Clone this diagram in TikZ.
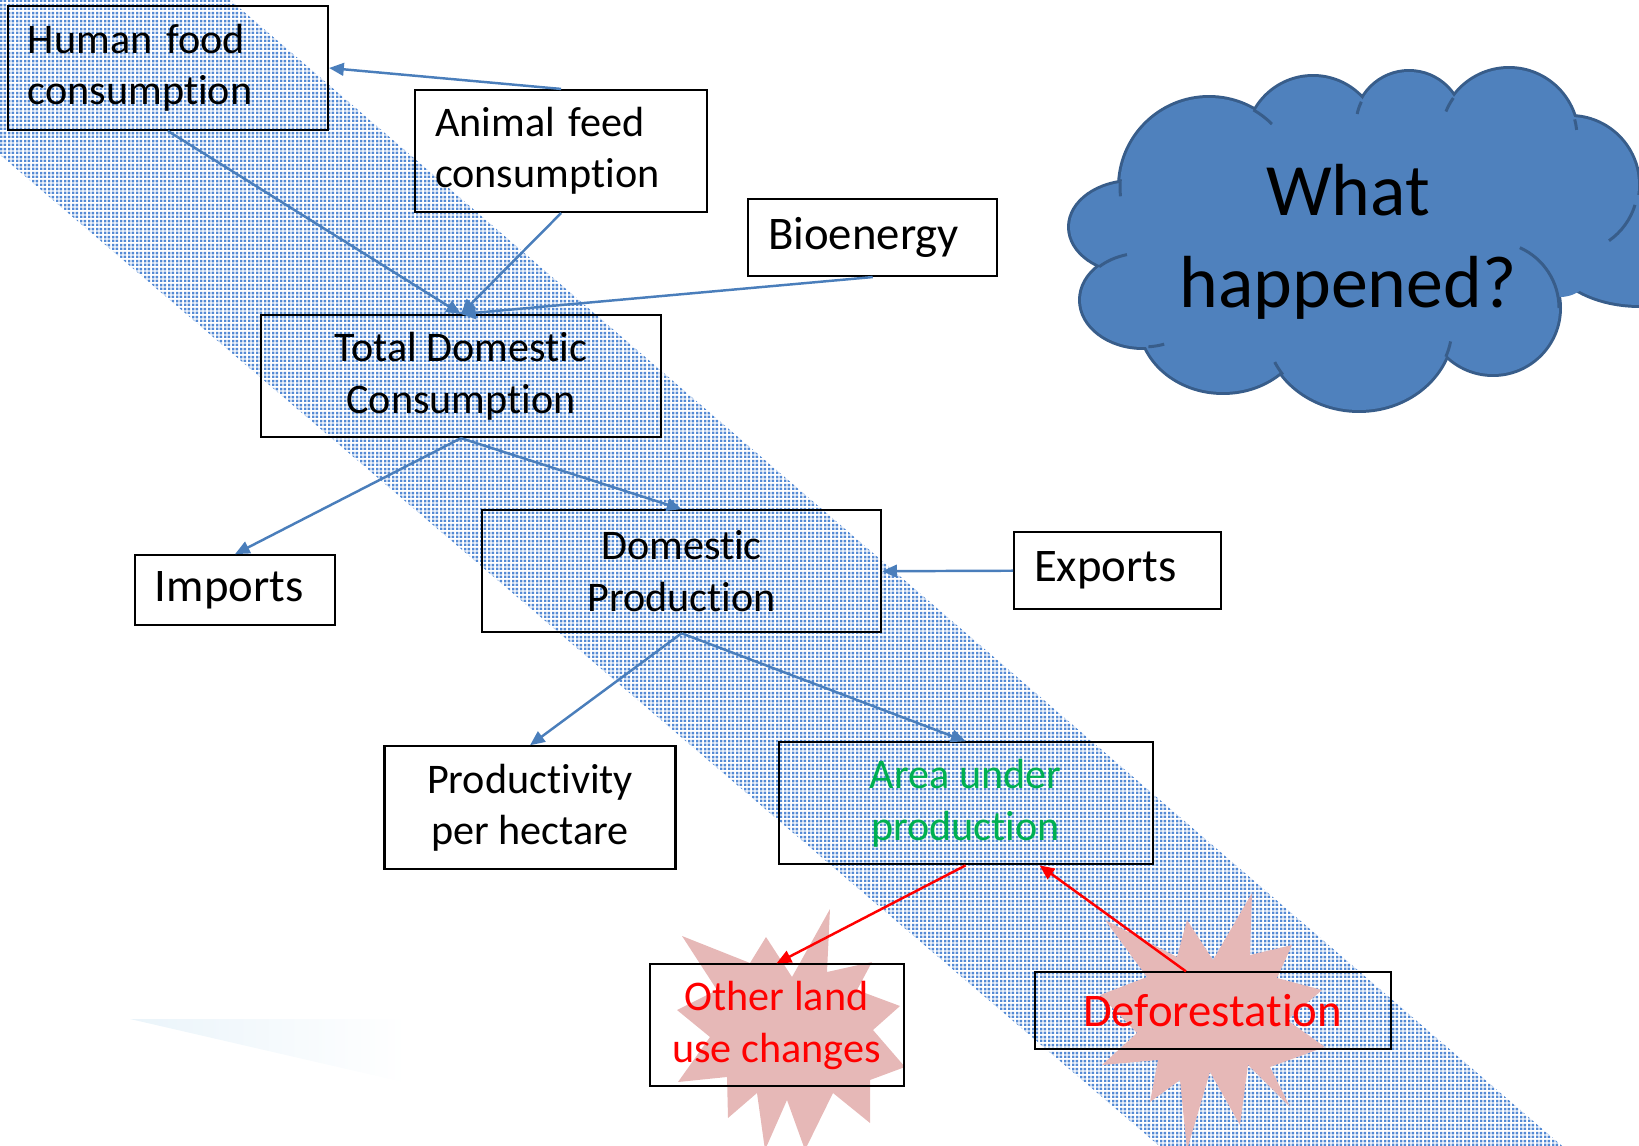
\documentclass[tikz,border=0pt]{standalone}
\usepackage{fontspec}
\setmainfont{Carlito}[Ligatures=NoCommon]
\usepackage{tikz}
\usetikzlibrary{positioning,arrows.meta,patterns.meta}

\definecolor{flowblue}{RGB}{74,126,187}
\definecolor{meshblue}{RGB}{84,138,212}
\definecolor{cloudblue}{RGB}{79,129,189}
\definecolor{cloudrim}{RGB}{56,93,138}
\definecolor{burstpink}{RGB}{230,184,183}
\definecolor{leafgreen}{RGB}{0,176,80}
\definecolor{glint}{RGB}{234,244,250}

\pgfdeclarepattern{
  name=weave,
  bottom left={\pgfpoint{0pt}{0pt}},
  top right={\pgfpoint{2.3pt}{2.3pt}},
  tile size={\pgfpoint{2.3pt}{2.3pt}},
  code={
    \pgfpathrectangle{\pgfpoint{0.35pt}{0.35pt}}{\pgfpoint{0.75pt}{0.75pt}}
    \pgfpathrectangle{\pgfpoint{1.5pt}{0.35pt}}{\pgfpoint{0.75pt}{0.75pt}}
    \pgfpathrectangle{\pgfpoint{0.35pt}{1.5pt}}{\pgfpoint{0.75pt}{0.75pt}}
    \pgfpathrectangle{\pgfpoint{1.5pt}{1.5pt}}{\pgfpoint{0.75pt}{0.75pt}}
    \pgfusepath{fill}
  }
}

\newcommand\puffs{12.09/-1.87/.89/.89, 13.13/-1.43/.66/.66, 14.09/-1.25/.53/.53,
  15.09/-1.37/.68/.68, 15.70/-1.85/.68/.68, 16.40/-2.50/.90/.55, 14.93/-3.08/.66/.66,
  13.59/-3.27/.93/.83, 12.23/-3.20/.83/.72, 11.43/-3.00/.62/.47, 11.33/-2.27/.63/.45}

\begin{document}
\begin{tikzpicture}[
    box/.style={draw=black, line width=.6pt, inner sep=0pt, minimum height=1.22cm,
      font=\fontsize{12}{14.6}\selectfont},
    mid/.style={box, align=center, minimum width=#1cm},
    flush/.style={box, align=left, inner xsep=.2cm, text width=#1cm},
    short/.style={minimum height=.77cm, font=\fontsize{13.3}{16}\selectfont},
    flow/.style={draw=flowblue, line width=.7pt, -{Triangle[length=4.2pt,width=3.6pt]}},
    alarm/.style={flow, draw=red},
    burst/.style={fill=burstpink}
    ]
    \useasboundingbox (0,0) rectangle (16.39,-11.46);
    \begin{scope}
        \clip (0,0) rectangle (16.39,-11.46);
        \fill[pattern=weave, pattern color=meshblue]
            (1.14,1) -- (16.83,-12.5) -- (12.81,-12.5) -- (-2.98,1) -- cycle;
        \shade[left color=glint, right color=white]
            (1.30,-10.19) -- (4.07,-10.19) -- (4.07,-10.83) -- cycle;
        \fill[burst] (8.30,-9.09) -- (8.27,-9.72) -- (8.72,-9.62) -- (8.57,-9.90)
            -- (9.00,-10.06) -- (8.73,-10.30) -- (9.05,-10.67) -- (8.70,-10.80)
            -- (8.70,-11.23) -- (8.33,-10.93) -- (8.05,-11.50) -- (7.87,-11.00)
            -- (7.65,-11.50) -- (7.57,-10.93) -- (7.28,-11.18) -- (7.27,-10.77)
            -- (6.78,-10.82) -- (7.10,-10.37) -- (6.77,-10.10) -- (7.17,-9.90)
            -- (6.82,-9.36) -- (7.50,-9.63) -- (7.66,-9.37) -- (7.92,-9.77) -- cycle;
        \fill[burst] (12.52,-8.93) -- (12.50,-9.55) -- (12.92,-9.45) -- (12.77,-9.78)
            -- (13.22,-9.90) -- (12.87,-10.20) -- (13.25,-10.47) -- (12.70,-10.67)
            -- (12.90,-11.07) -- (12.48,-10.65) -- (12.40,-11.25) -- (12.10,-10.72)
            -- (11.87,-11.50) -- (11.80,-10.80) -- (11.50,-11.02) -- (11.58,-10.60)
            -- (11.02,-10.65) -- (11.37,-10.33) -- (11.00,-9.95) -- (11.47,-9.77)
            -- (11.05,-9.20) -- (11.77,-9.57) -- (11.87,-9.20) -- (12.13,-9.60) -- cycle;
        \foreach \cx/\cy/\rx/\ry in \puffs
            \draw[cloudrim, line width=1.7pt] (\cx,\cy) ellipse [x radius=\rx, y radius=\ry];
        \foreach \cx/\cy/\rx/\ry in \puffs
            \fill[cloudblue] (\cx,\cy) ellipse [x radius=\rx, y radius=\ry];
        \fill[cloudblue] (13.45,-2.35) ellipse [x radius=2.1, y radius=1.05];
        \fill[cloudblue] (15.60,-2.62) circle [radius=.35];
        \begin{scope}[cloudrim, line width=.85pt]
            \draw (12.09,-1.87) ++(60:.89) arc [start angle=60, end angle=45, radius=.89];
            \draw (12.09,-1.87) ++(175:.89) arc [start angle=175, end angle=186, radius=.89];
            \draw (14.09,-1.25) ++(154:.53) arc [start angle=154, end angle=168, radius=.53];
            \draw (15.09,-1.37) ++(145:.68) arc [start angle=145, end angle=158, radius=.68];
            \draw (15.09,-1.37) ++(15:.68) arc [start angle=15, end angle=6, radius=.68];
            \draw (15.70,-1.85) ++(-17:.68) arc [start angle=-17, end angle=-55, radius=.68];
            \draw (14.93,-3.08) ++(0:.66) arc [start angle=0, end angle=66, radius=.66];
            \draw (13.59,-3.27) ++(215:.93 and .83) arc [start angle=215, end angle=205, x radius=.93, y radius=.83];
            \draw (13.59,-3.27) ++(339:.93 and .83) arc [start angle=339, end angle=350, x radius=.93, y radius=.83];
            \draw (11.43,-3.00) ++(135:.62 and .47) arc [start angle=135, end angle=105, x radius=.62, y radius=.47];
            \draw (11.43,-3.00) ++(275:.62 and .47) arc [start angle=275, end angle=290, x radius=.62, y radius=.47];
        \end{scope}
    \end{scope}
    \node[align=center, font=\fontsize{21}{26}\selectfont] (what) at (13.48,-2.42) {What\\happened?};

    \node[flush=2.80, minimum height=1.24cm] (human) at (1.68,-0.68) {Human food\\consumption};
    \node[flush=2.52, below right=.84 and .85 of human.north east] (animal) {Animal feed\\consumption};
    \node[flush=2.09, short, below right=1.09 and .39 of animal.north east] (bio) {Bioenergy};
    \node[mid=4.00, below right=1.83 and 2.53 of human.south west] (tdc) {Total Domestic\\Consumption};
    \node[flush=1.60, short, minimum height=.70cm, below left=1.16 and 1.25 of tdc.south] (imports) {Imports};
    \node[mid=3.99, below right=.71 and .20 of tdc.south] (dp) {Domestic\\Production};
    \node[flush=1.67, short, below right=.22 and 1.31 of dp.north east] (exports) {Exports};
    \node[mid=2.91, minimum height=1.23cm, below left=1.12 and .05 of dp.south] (prod) {Productivity\\per hectare};
    \node[mid=3.74, text=leafgreen, below right=1.08 and .96 of dp.south] (area) {Area under\\production};
    \node[mid=2.54, text=red, below left=.98 and .61 of area.south] (other) {Other land\\use changes};
    \node[mid=3.56, short, text=red, below right=1.06 and .68 of area.south] (defor) {Deforestation};

    \draw[flow] (animal.north) -- (human.east);
    \draw[flow] (human.south) -- (tdc.north);
    \draw[flow] (animal.south) -- (tdc.north);
    \draw[flow] (bio.south) -- (tdc.north);
    \draw[flow] (tdc.south) -- (imports.north);
    \draw[flow] (tdc.south) -- (dp.north);
    \draw[flow] (exports.west) -- (dp.east);
    \draw[flow] (dp.south) -- (prod.north);
    \draw[flow] (dp.south) -- (area.north);
    \draw[alarm] (area.south) -- (other.north);
    \draw[alarm] (defor.124) -- (area.320);
\end{tikzpicture}
\end{document}
